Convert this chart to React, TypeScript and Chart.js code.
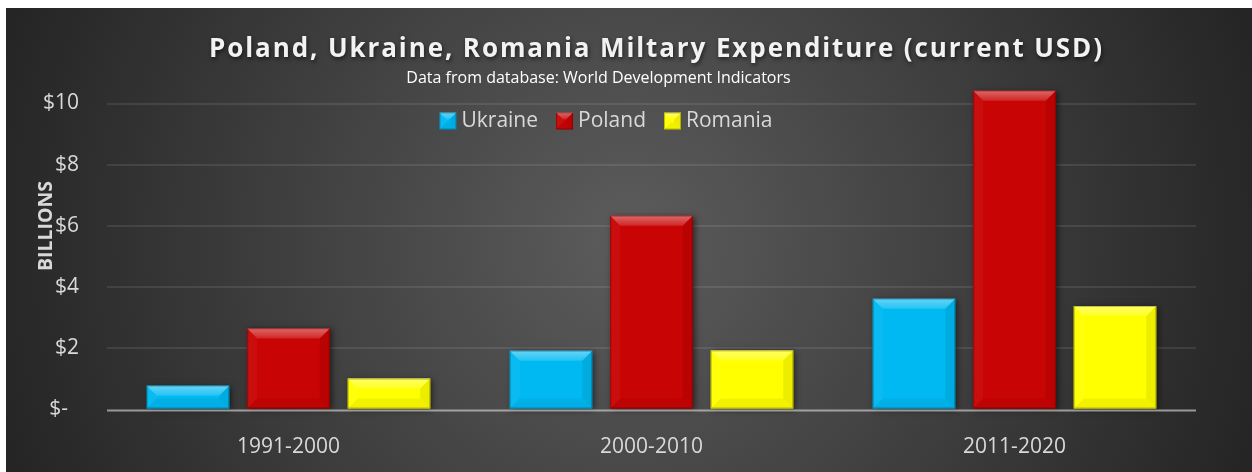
import React, { useEffect, useRef } from 'react';
import { Chart, registerables } from 'chart.js';

Chart.register(...registerables);

const categories = ['1991-2000', '2000-2010', '2011-2020'];
const seriesNames = ['Ukraine', 'Poland', 'Romania'];
const ukraine = [0.78, 1.92, 3.62];
const poland = [2.65, 6.33, 10.42];
const romania = [1.01, 1.93, 3.38];
const seriesColors = ['#00B9F2', '#C80404', '#FFFF00'];
const yTickValues = [0, 2, 4, 6, 8, 10];
const yTickLabels = ['$-  ', '$2', '$4', '$6', '$8', '$10'];
const titleText = 'Poland, Ukraine, Romania Miltary Expenditure (current USD)';
const subtitleText = 'Data from database: World Development Indicators';
const yAxisTitle = 'BILLIONS';

const FONT = '"Open Sans", "Noto Sans", sans-serif';
const W = 1246;
const H = 464;

function poly(ctx: CanvasRenderingContext2D, pts: number[][], fill: string | CanvasGradient) {
  ctx.beginPath();
  ctx.moveTo(pts[0][0], pts[0][1]);
  for (let i = 1; i < pts.length; i++) ctx.lineTo(pts[i][0], pts[i][1]);
  ctx.closePath();
  ctx.fillStyle = fill;
  ctx.fill();
}

function bevel(ctx: CanvasRenderingContext2D, L: number, T: number, R: number, B: number, d0: number) {
  const d = Math.min(d0, (R - L) / 2, (B - T) / 2);
  const g = ctx.createLinearGradient(0, T, 0, T + d);
  g.addColorStop(0, 'rgba(255,255,255,0.40)');
  g.addColorStop(1, 'rgba(255,255,255,0.14)');
  poly(ctx, [[L, T], [R, T], [R - d, T + d], [L + d, T + d]], g);
  poly(ctx, [[L, T], [L + d, T + d], [L + d, B - d], [L, B]], 'rgba(255,255,255,0.04)');
  poly(ctx, [[R, T], [R - d, T + d], [R - d, B - d], [R, B]], 'rgba(0,0,0,0.07)');
  poly(ctx, [[L, B], [L + d, B - d], [R - d, B - d], [R, B]], 'rgba(0,0,0,0.05)');
  ctx.strokeStyle = 'rgba(0,0,0,0.25)';
  ctx.lineWidth = 1;
  ctx.strokeRect(L + 0.5, T + 0.5, R - L - 1, B - T - 1);
}

const decorPlugin = {
  id: 'decor',
  beforeDraw(chart: any) {
    const ctx = chart.ctx as CanvasRenderingContext2D;
    ctx.save();
    const cx = 623, cy = 232;
    const g = ctx.createRadialGradient(cx, cy, 0, cx, cy, 665);
    g.addColorStop(0, '#5c5c5c');
    g.addColorStop(1, '#242424');
    ctx.fillStyle = g;
    ctx.fillRect(0, 0, W, H);
    ctx.restore();
  },
  beforeDatasetsDraw(chart: any) {
    const ctx = chart.ctx as CanvasRenderingContext2D;
    chart.data.datasets.forEach((ds: any, i: number) => {
      const meta = chart.getDatasetMeta(i);
      meta.data.forEach((el: any) => {
        const { x, y, base, width } = el.getProps(['x', 'y', 'base', 'width'], true);
        ctx.save();
        ctx.shadowColor = 'rgba(0,0,0,0.55)';
        ctx.shadowBlur = 6;
        ctx.shadowOffsetX = 2;
        ctx.shadowOffsetY = 1;
        ctx.fillStyle = seriesColors[i];
        ctx.fillRect(x - width / 2, y, width, base - y);
        ctx.restore();
      });
    });
  },
  afterDatasetsDraw(chart: any) {
    const ctx = chart.ctx as CanvasRenderingContext2D;
    chart.data.datasets.forEach((ds: any, i: number) => {
      const meta = chart.getDatasetMeta(i);
      meta.data.forEach((el: any) => {
        const { x, y, base, width } = el.getProps(['x', 'y', 'base', 'width'], true);
        ctx.save();
        bevel(ctx, x - width / 2, y, x + width / 2, base, 10);
        ctx.restore();
      });
    });
    const ys = chart.scales.y;
    const y0 = ys.getPixelForValue(0);
    const area = chart.chartArea;
    ctx.save();
    ctx.strokeStyle = 'rgba(210,210,210,0.65)';
    ctx.lineWidth = 2;
    ctx.beginPath();
    ctx.moveTo(area.left, y0 + 1);
    ctx.lineTo(area.right, y0 + 1);
    ctx.stroke();
    ctx.restore();
  },
  afterDraw(chart: any) {
    const ctx = chart.ctx as CanvasRenderingContext2D;
    const area = chart.chartArea;
    const plotCenter = (area.left + area.right) / 2;
    // Title
    ctx.save();
    ctx.font = `bold 26px ${FONT}`;
    (ctx as any).letterSpacing = '0px';
    const w0 = ctx.measureText(titleText).width;
    const target = 893;
    const sp = (target - w0) / (titleText.length - 1);
    (ctx as any).letterSpacing = `${sp}px`;
    ctx.textAlign = 'left';
    ctx.textBaseline = 'alphabetic';
    ctx.shadowColor = 'rgba(0,0,0,0.6)';
    ctx.shadowBlur = 4;
    ctx.shadowOffsetX = 1;
    ctx.shadowOffsetY = 2;
    ctx.fillStyle = '#F2F2F2';
    ctx.fillText(titleText, plotCenter - target / 2 + 4, 49);
    ctx.restore();

    // Subtitle
    ctx.save();
    ctx.font = `16px ${FONT}`;
    ctx.textAlign = 'center';
    ctx.textBaseline = 'alphabetic';
    ctx.fillStyle = '#FFFFFF';
    ctx.fillText(subtitleText, 592.5, 75.3);
    ctx.restore();

    // Legend
    ctx.save();
    ctx.font = `21px ${FONT}`;
    ctx.textBaseline = 'alphabetic';
    ctx.textAlign = 'left';
    const box = 17, gap = 5, itemGap = 18;
    const widths = seriesNames.map((n) => ctx.measureText(n).width);
    const total = widths.reduce((a, b) => a + b, 0) + seriesNames.length * (box + gap) + itemGap * (seriesNames.length - 1);
    let lx = 600 - total / 2;
    const boxTop = 104.5;
    seriesNames.forEach((n, i) => {
      ctx.fillStyle = seriesColors[i];
      ctx.fillRect(lx, boxTop, box, box);
      bevel(ctx, lx, boxTop, lx + box, boxTop + box, 7);
      ctx.fillStyle = '#D9D9D9';
      ctx.fillText(n, lx + box + gap, 118.7);
      lx += box + gap + widths[i] + itemGap;
    });
    ctx.restore();

    // Y axis title
    ctx.save();
    ctx.font = `bold 19.5px ${FONT}`;
    ctx.translate(45.7, 218);
    ctx.rotate(-Math.PI / 2);
    ctx.textAlign = 'center';
    ctx.textBaseline = 'alphabetic';
    ctx.fillStyle = '#D9D9D9';
    ctx.fillText(yAxisTitle, 0, 0);
    ctx.restore();
  },
};

export default function App() {
  const ref = useRef<HTMLCanvasElement>(null);
  useEffect(() => {
    if (!ref.current) return;
    Chart.defaults.font.family = FONT;
    const chart = new Chart(ref.current, {
      type: 'bar',
      data: {
        labels: categories,
        datasets: [
          { label: seriesNames[0], data: ukraine, backgroundColor: seriesColors[0] },
          { label: seriesNames[1], data: poland, backgroundColor: seriesColors[1] },
          { label: seriesNames[2], data: romania, backgroundColor: seriesColors[2] },
        ],
      },
      options: {
        animation: false,
        responsive: false,
        devicePixelRatio: 1,
        layout: { padding: { left: 0, right: 56, top: 64.9, bottom: 0 } },
        datasets: { bar: { categoryPercentage: 0.8306, barPercentage: 0.821, borderWidth: 0 } },
        plugins: {
          legend: { display: false },
          title: { display: false },
          tooltip: { enabled: false },
        },
        scales: {
          x: {
            grid: { display: false },
            border: { display: false },
            ticks: { color: '#D9D9D9', font: { family: FONT, size: 21 }, padding: 17 },
            afterFit: (s: any) => { s.height = 62.5; },
          },
          y: {
            min: 0,
            max: 11,
            border: { display: false },
            grid: {
              drawTicks: false,
              lineWidth: 2,
              color: (c: any) => (c.tick && c.tick.value === 0 ? 'rgba(0,0,0,0)' : 'rgba(255,255,255,0.09)'),
            },
            ticks: {
              stepSize: 2,
              includeBounds: false,
              color: '#D9D9D9',
              font: { family: FONT, size: 21 },
              padding: 28,
              callback: (v: any) => {
                const idx = yTickValues.indexOf(Number(v));
                return idx >= 0 ? yTickLabels[idx] : '';
              },
            },
            afterFit: (s: any) => { s.width = 101; },
          },
        },
      },
      plugins: [decorPlugin],
    } as any);
    return () => chart.destroy();
  }, []);
  return (
    <div style={{ position: 'absolute', left: 6, top: 8, width: W, height: H }}>
      <canvas ref={ref} width={W} height={H} style={{ display: 'block', width: W, height: H }} />
    </div>
  );
}
